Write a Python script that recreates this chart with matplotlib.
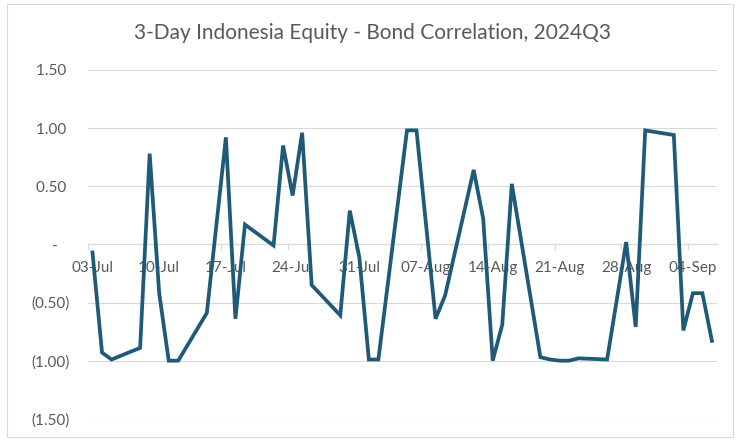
import numpy as np
import matplotlib
matplotlib.use("Agg")
import matplotlib.pyplot as plt
from matplotlib.patches import Rectangle
from matplotlib.ticker import FixedLocator, FuncFormatter

# 3-day rolling correlation between Indonesian equities and bonds, Q3 2024
dates = [
    "2024-07-03", "2024-07-04", "2024-07-05", "2024-07-08", "2024-07-09",
    "2024-07-10", "2024-07-11", "2024-07-12", "2024-07-15", "2024-07-17",
    "2024-07-18", "2024-07-19", "2024-07-22", "2024-07-23", "2024-07-24",
    "2024-07-25", "2024-07-26", "2024-07-29", "2024-07-30", "2024-07-31",
    "2024-08-01", "2024-08-02", "2024-08-05", "2024-08-06", "2024-08-08",
    "2024-08-09", "2024-08-12", "2024-08-13", "2024-08-14", "2024-08-15",
    "2024-08-16", "2024-08-19", "2024-08-20", "2024-08-21", "2024-08-22",
    "2024-08-23", "2024-08-26", "2024-08-28", "2024-08-29", "2024-08-30",
    "2024-09-02", "2024-09-03", "2024-09-04", "2024-09-05", "2024-09-06",
]
correlation = [
    -0.07, -0.93, -0.99, -0.89, 0.78,
    -0.42, -1.00, -1.00, -0.59, 0.92,
    -0.64, 0.17, -0.01, 0.85, 0.42,
    0.96, -0.35, -0.61, 0.29, -0.11,
    -0.99, -0.99, 0.98, 0.98, -0.64,
    -0.44, 0.64, 0.22, -1.00, -0.69,
    0.52, -0.97, -0.99, -1.00, -1.00,
    -0.98, -0.99, 0.02, -0.71, 0.98,
    0.94, -0.74, -0.42, -0.42, -0.83,
]
tick_dates = [
    "2024-07-03", "2024-07-10", "2024-07-17", "2024-07-24", "2024-07-31",
    "2024-08-07", "2024-08-14", "2024-08-21", "2024-08-28", "2024-09-04",
]
tick_labels = ["03-Jul", "10-Jul", "17-Jul", "24-Jul", "31-Jul",
               "07-Aug", "14-Aug", "21-Aug", "28-Aug", "04-Sep"]
y_ticks = [-1.5, -1.0, -0.5, 0.0, 0.5, 1.0, 1.5]
axis_start, axis_end = "2024-07-03", "2024-09-06"

title = "3-Day Indonesia Equity - Bond Correlation, 2024Q3"

FONT = ["Lato", "DejaVu Sans"]
TEXT_COLOR = "#595959"
GRID_COLOR = "#D9D9D9"
LINE_COLOR = "#1F5A78"


def day_offset(values):
    base = np.datetime64(axis_start)
    return (np.array(values, dtype="datetime64[D]") - base).astype(float)


x = day_offset(dates)
x_ticks = day_offset(tick_dates)
x_end = day_offset([axis_end])[0]

plt.rcParams["font.family"] = FONT

fig = plt.figure(figsize=(7.44, 4.41), dpi=100)
fig.patch.set_facecolor("white")

ax = fig.add_axes([0.1179, 0.0503, 0.8454, 0.7912])
ax.plot(x, correlation, color=LINE_COLOR, lw=2.7, solid_joinstyle="miter",
        zorder=3)

# each day occupies one slot; points sit in the middle of their day
ax.set_xlim(-0.5, x_end + 0.5)
ax.set_ylim(-1.5, 1.5)

# y axis: accounting style labels
def acct(v, _pos=None):
    if abs(v) < 1e-9:
        return "-   "
    if v < 0:
        return f"({abs(v):.2f})"
    return f"{v:.2f} "

ax.yaxis.set_major_locator(FixedLocator(y_ticks))
ax.yaxis.set_major_formatter(FuncFormatter(acct))
ax.tick_params(axis="y", length=0, pad=13, labelsize=11,
               labelcolor=TEXT_COLOR)
ax.grid(axis="y", color=GRID_COLOR, lw=0.8)
ax.grid(axis="x", visible=False)

# x axis sits on the zero line; labels centred on days, ticks at day edges
ax.set_xticks(x_ticks)
ax.set_xticklabels(tick_labels)
ax.set_xticks(x_ticks - 0.5, minor=True)
ax.tick_params(axis="x", which="major", length=0, pad=12, labelsize=11,
               labelcolor=TEXT_COLOR)
ax.tick_params(axis="x", which="minor", length=4, width=0.8,
               color=GRID_COLOR, direction="out")

for side in ("top", "right", "left"):
    ax.spines[side].set_visible(False)
ax.spines["bottom"].set_position(("data", 0))
ax.spines["bottom"].set_color(GRID_COLOR)
ax.spines["bottom"].set_linewidth(0.8)
ax.set_facecolor("none")

fig.text(0.5, 0.925, title, ha="center", va="center", fontsize=15,
         color=TEXT_COLOR)

# chart frame
fig.patches.append(Rectangle((7 / 744, 4 / 441), 726 / 744, 433 / 441,
                             transform=fig.transFigure, fill=False,
                             edgecolor=GRID_COLOR, lw=0.8))

fig.savefig("out.png", dpi=100)
